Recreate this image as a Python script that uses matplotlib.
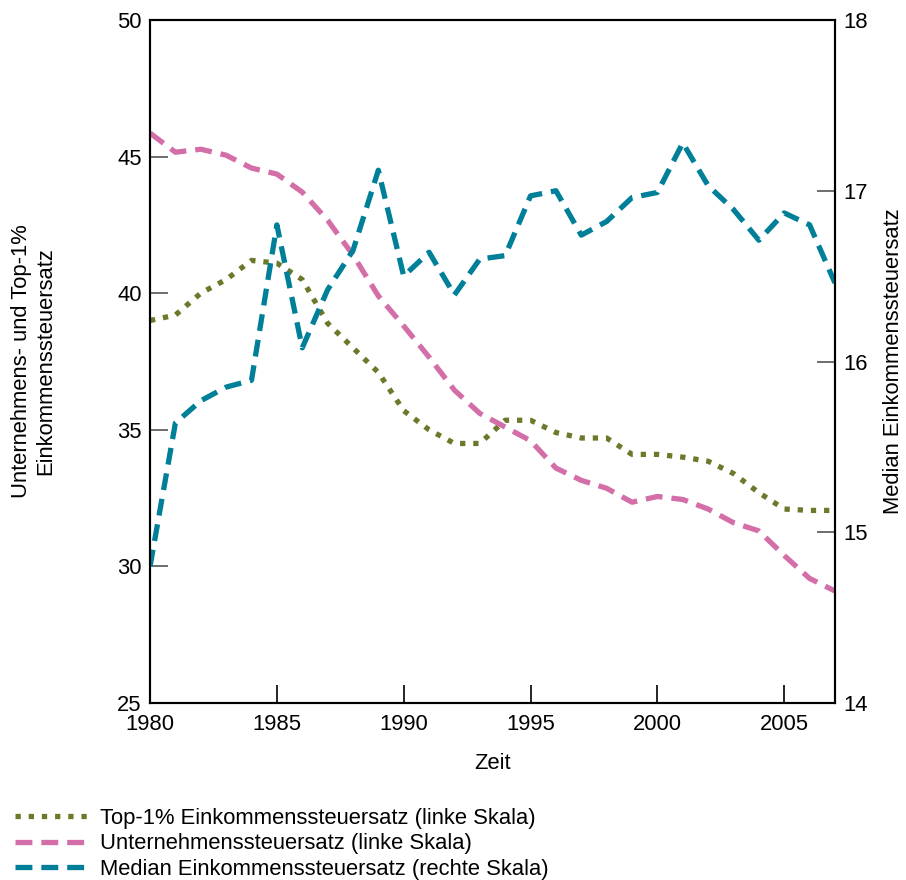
import matplotlib.pyplot as plt

plt.rcParams['font.family'] = ['Liberation Sans', 'DejaVu Sans']

years = list(range(1980, 2008))

# Top-1% Einkommenssteuersatz (linke Skala)
top1 = [39.0, 39.2, 40.0, 40.5, 41.2, 41.1, 40.5, 38.9, 38.0, 37.1,
        35.7, 35.0, 34.5, 34.5, 35.35, 35.35, 34.9, 34.7, 34.7, 34.1,
        34.1, 34.0, 33.85, 33.4, 32.7, 32.1, 32.05, 32.05]

# Unternehmenssteuersatz (linke Skala)
corp = [45.86, 45.16, 45.27, 45.05, 44.58, 44.36, 43.7, 42.67, 41.4, 39.9,
        38.8, 37.66, 36.45, 35.6, 35.1, 34.6, 33.6, 33.15, 32.86, 32.35,
        32.56, 32.45, 32.1, 31.6, 31.3, 30.4, 29.56, 29.1]

# Median Einkommenssteuersatz (rechte Skala)
median = [14.80, 15.64, 15.77, 15.85, 15.89, 16.80, 16.08, 16.42, 16.65, 17.12,
          16.5, 16.64, 16.39, 16.60, 16.62, 16.97, 17.0, 16.74, 16.82, 16.96,
          16.99, 17.28, 17.03, 16.89, 16.71, 16.87, 16.80, 16.46]

green = '#6b7a2a'
pink = '#d36ea8'
blue = '#007f98'
fs = 15.8

fig = plt.figure(figsize=(9.06, 8.8), dpi=100)
ax = fig.add_axes([0.1656, 0.2011, 0.7560, 0.7762])
ax2 = ax.twinx()

l1, = ax.plot(years, top1, color=green, lw=3.8, dashes=(1.0, 1.5),
              label='Top-1% Einkommenssteuersatz (linke Skala)')
l2, = ax.plot(years, corp, color=pink, lw=3.8, dashes=(3.2, 1.7),
              label='Unternehmenssteuersatz (linke Skala)')
l3, = ax2.plot(years, median, color=blue, lw=3.8, dashes=(3.2, 1.7),
               label='Median Einkommenssteuersatz (rechte Skala)')

ax.set_xlim(1980, 2007)
ax.set_ylim(25, 50)
ax2.set_ylim(14, 18)
ax.set_xticks(range(1980, 2006, 5))
ax.set_yticks(range(25, 51, 5))
ax2.set_yticks(range(14, 19))

for a in (ax, ax2):
    a.tick_params(direction='in', length=13, width=1.2, labelsize=fs, pad=6)
    for s in a.spines.values():
        s.set_linewidth(1.5)
ax.tick_params(axis='x', pad=8)
ax.tick_params(axis='y', color='#555555')
ax2.tick_params(axis='y', color='#555555')

ax.set_xlabel('Zeit', fontsize=fs, labelpad=13)
ax.set_ylabel('Unternehmens- und Top-1%\nEinkommenssteuersatz', fontsize=fs, labelpad=44)
ax2.set_ylabel('Median Einkommenssteuersatz', fontsize=fs, labelpad=11)

fig.legend(handles=[l1, l2, l3], loc='upper left', bbox_to_anchor=(0.007, 0.092),
           frameon=False, fontsize=fs, handlelength=3.3, handletextpad=0.55,
           labelspacing=0.2, borderaxespad=0.0)

fig.savefig('out.png', dpi=100)
